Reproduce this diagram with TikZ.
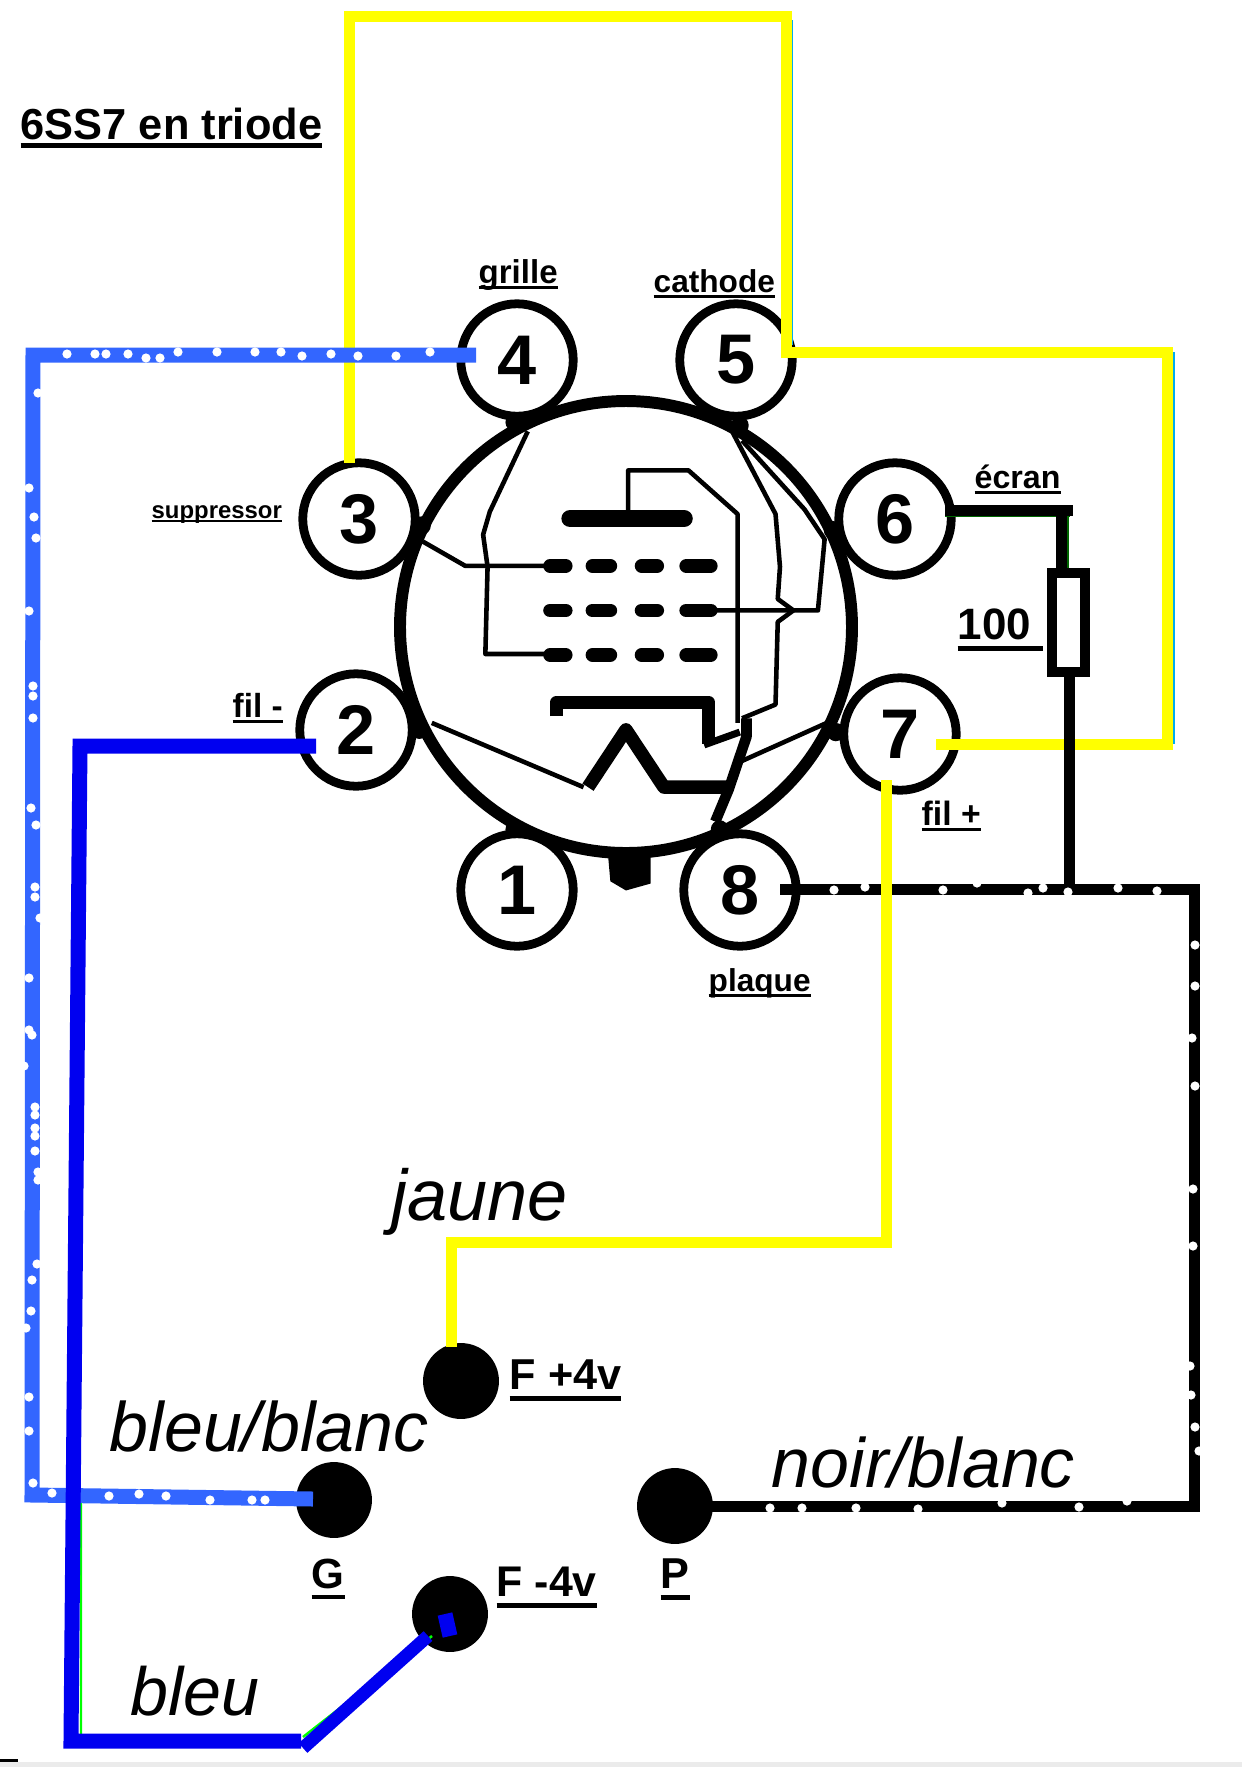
\documentclass[tikz,border=0pt]{standalone}
\usepackage{fontspec}
\setmainfont{Liberation Sans}
\newcommand{\ulab}[2][0.18em]{\setbox0=\hbox{#2}\copy0\kern-\wd0\rule[-#1]{\wd0}{0.1em}}
\newcommand{\fs}[1]{\fontsize{#1}{#1}\selectfont}
\definecolor{jaune}{HTML}{FFFF00}
\definecolor{bleublanc}{HTML}{3366FF}
\definecolor{bleufil}{HTML}{0000F0}
\tikzset{
  pin/.style={circle,draw,fill=white,line width=2.5pt,minimum size=32pt,inner sep=0,font=\bfseries\fs{20}},
  lab/.style={anchor=base west,inner sep=0,font=\bfseries\fs{#1}},
  cap/.style={anchor=base west,inner sep=0,font=\itshape\fs{#1}},
  plot/.style={circle,fill=black,minimum size=21.6pt,inner sep=0},
  yel/.style={draw=jaune,line width=1.1mm},
  noir/.style={draw=black,line width=1.1mm},
  bb/.style={draw=bleublanc,line width=1.5mm},
  bl/.style={draw=bleufil,line width=1.5mm},
  thin wire/.style={line width=1.3pt,line join=round},
  fat wire/.style={line width=3.8pt,line join=round}
}
\begin{document}
\begin{tikzpicture}[x=0.1mm,y=-0.1mm]
\useasboundingbox (0,0) rectangle (1242,1767);
\fill[black!8] (0,1762) rectangle (1242,1767);
\fill (0,1759) rectangle (18,1762);
% tube
\draw[line width=3.4pt] (626,627) circle (226);
\begin{scope}[shift={(280,250)},xscale=1/2.24,yscale=1/2.178]
\foreach \x/\y in {525/375,1030/382,318/600,1238/610,312/1045,1245/1050,525/1262,985/1262}
  \fill (\x,\y) circle (20);
\draw[thin wire] (555,395)--(470,570)--(455,620)--(465,690)--(460,880)--(650,880);
\draw[thin wire] (320,635)--(415,688)--(600,688);
\draw[thin wire] (780,585)--(780,480)--(915,480)--(1025,575)--(1025,1030);
\draw[thin wire] (1010,390)--(1110,575)--(1120,690)--(1115,760)--(1150,785)--(1115,810)--(1110,990)--(1035,1020);
\draw[thin wire] (1035,415)--(1175,565)--(1220,630)--(1205,785)--(960,785);
\draw[line width=5pt,line cap=round] (650,585)--(905,585);
\foreach \y in {688,785,882}
  \foreach \a/\b in {605/640,700/740,810/845,910/965}
    \draw[line width=3.9pt,line cap=round] (\a,\y)--(\b,\y);
\draw[fat wire] (620,1015)--(620,985)--(960,985)--(960,1075);
\draw[line width=2pt] (950,1078)--(1030,1050);
\draw[line width=3pt,line join=round] (1045,1020)--(1045,1060)--(1005,1175)--(975,1245);
\draw[thin wire] (340,1030)--(680,1170);
\draw[fat wire] (690,1170)--(775,1045)--(860,1170)--(1000,1170);
\draw[thin wire] (1030,1115)--(1225,1030);
\fill (735,1320)--(740,1375)--(775,1395)--(830,1380)--(830,1320)--cycle;
\end{scope}
\node[pin] (p1) at (517,890) {1};
\node[pin] (p2) at (356,730) {2};
\node[pin] (p3) at (359,519) {3};
\node[pin] (p4) at (517,360) {4};
\node[pin] (p5) at (736,360) {5};
\node[pin] (p6) at (895,519) {6};
\node[pin] (p7) at (900,734) {7};
\node[pin] (p8) at (740,890) {8};
% plots
\node[plot] (fplus) at (461,1381) {};
\node[plot] (fmoins) at (450,1614) {};
\node[plot] (g) at (334,1500) {};
\node[plot] (pl) at (675,1506) {};
% wire ends
\coordinate (y3) at (349,463);
\coordinate (ytop) at (786,16);
\coordinate (yr) at (1167,352);
\coordinate (y7) at (936,744);
\coordinate (y7b) at (886,780);
\coordinate (ybas) at (451,1242);
\coordinate (yf) at (451,1347);
\coordinate (n8) at (780,889);
\coordinate (ncoin) at (1194,889);
\coordinate (n6) at (945,510);
\coordinate (n6r) at (1073,510);
\coordinate (nst) at (1061,510);
\coordinate (rtop) at (1061,573);
\coordinate (rbot) at (1069,672);
\coordinate (njonc) at (1069,889);
\coordinate (b4) at (476,355);
\coordinate (bhg) at (33,355);
\coordinate (bbg) at (32,1495);
\coordinate (bg) at (313,1499);
\coordinate (d2) at (316,746);
\coordinate (dh) at (80,746);
\coordinate (db) at (71,1741);
\coordinate (dc) at (301,1741);
\coordinate (dd) at (303,1748);
\coordinate (df) at (428,1636);
% hairlines
\draw[cyan,line width=0.6pt] (792,20)--(792,345) (1174,352)--(1174,744);
\draw[green!40!black,line width=0.6pt] (945,516)--(1070,516) (1068,516)--(1068,570);
\draw[green,line width=0.7pt] (81,1490)--(81,1735) (303,1737)--(432,1636);
% wires
\draw[yel] (y3) |- (ytop) |- (yr) |- (y7);
\draw[noir] (n6) -- (n6r) (nst) -- (rtop);
\draw[draw=black,fill=white,line width=1mm] (1052,573) rectangle (1085,672);
\draw[noir] (rbot) -- (njonc);
\draw[noir] (n8) -- (ncoin) |- (pl.center);
\draw[yel] (y7b) |- (ybas) -- (yf);
\draw[bb] (b4) -- (bhg) -- (bbg) -- (bg);
\draw[bl] (d2) -- (dh) -- (db) -- (dc);
\draw[bl,line width=1.3mm] (dd) -- (df);
\draw[bl] (445,1614) -- (450,1636);
% specks
\foreach \x/\y in {67/354,95/354,106/354,128/354,146/358,160/358,178/352,217/352,255/352,281/352,302/356,331/354,358/356,396/356,430/352,
  38/393,29/488,34/517,36/538,29/611,33/686,33/696,33/718,31/808,36/825,35/887,35/897,40/918,29/978,29/1030,32/1035,24/1066,
  35/1107,35/1115,35/1128,35/1136,35/1151,38/1172,38/1180,37/1264,32/1280,31/1311,26/1328,29/1397,29/1431,33/1483,
  52/1493,109/1496,139/1494,166/1496,210/1500,252/1500,265/1500,
  834/890,865/887,943/890,977/883,1028/893,1043/888,1068/892,1118/888,1157/891,
  1195/945,1195/986,1192/1038,1195/1086,1193/1189,1193/1246,1190/1366,1191/1395,1195/1427,1199/1451,
  770/1508,802/1508,856/1508,918/1509,1002/1503,1079/1507,1127/1501}
  \fill[white] (\x,\y) circle (4.6);
% labels
\node[lab=12.35] (titre) at (20,139) {\ulab[0.2em]{6SS7 en triode}};
\node[lab=9.4] (grille) at (478,283) {\ulab{grille}};
\node[lab=9] (cathode) at (653,292) {\ulab{cathode}};
\node[lab=6.8] (suppr) at (151,518) {\ulab{suppressor}};
\node[lab=9.15] (ecran) at (974,488) {\ulab{écran}};
\node[lab=12.5] (cent) at (957,639) {\ulab[0.27em]{100\ }};
\node[lab=9.5] (film) at (232,717) {\ulab{fil -}};
\node[lab=9.6] (filp) at (921,825) {\ulab{fil +}};
\node[lab=9] (plaque) at (708,991) {\ulab{plaque}};
\node[lab=12.3] (lfp) at (509,1389) {\ulab[0.27em]{F +4v}};
\node[lab=12.2] (lfm) at (496,1596) {\ulab[0.27em]{F -4v}};
\node[lab=12] (lg) at (311,1588) {\ulab[0.27em]{G}};
\node[lab=12.3] (lp) at (660,1588) {\ulab[0.27em]{P}};
\node[cap=20.5] (jaune) at (391,1220) {jaune};
\node[cap=19.9] (bbl) at (109,1451) {bleu/blanc};
\node[cap=19.9] (nbl) at (771,1487) {noir/blanc};
\node[cap=19.4] (bleu) at (130,1715) {bleu};
\end{tikzpicture}
\end{document}
